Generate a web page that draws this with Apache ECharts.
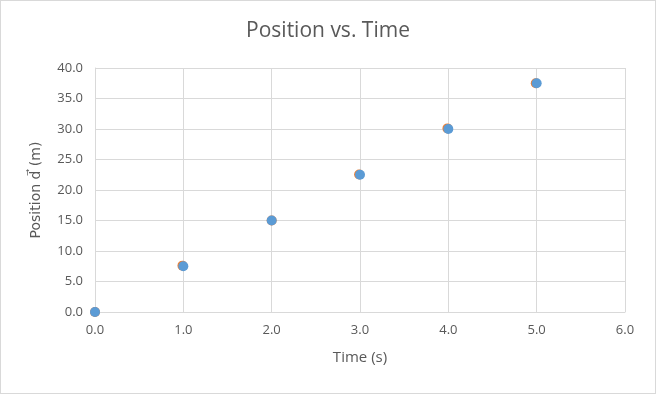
<!DOCTYPE html>
<html><head><meta charset="utf-8">
<script src="https://cdn.jsdelivr.net/npm/echarts@6/dist/echarts.min.js"></script>
<style>html,body{margin:0;padding:0;background:#fff}#c{width:656px;height:394px;box-sizing:border-box;border:1px solid #d9d9d9}</style>
</head><body><div id="c"></div>
<script>
const times = [0, 1, 2, 3, 4, 5];
const positions = [0, 7.5, 15, 22.5, 30, 37.5];
const timesB = [0, 0.99, 2, 2.99, 3.99, 4.99];
const positionsB = [0, 7.6, 15, 22.55, 30.1, 37.5];
const xTicks = [0, 1, 2, 3, 4, 5, 6];
const yTicks = [0, 5, 10, 15, 20, 25, 30, 35, 40];

const chart = echarts.init(document.getElementById('c'));
const font = '"Open Sans", "Noto Sans", sans-serif';
chart.setOption({
  animation: false,
  title: { text: 'Position vs. Time', left: 'center', top: 15,
    textStyle: { fontFamily: font, fontSize: 21, fontWeight: 'normal', color: '#595959' } },
  grid: { left: 94, right: 30, top: 67, bottom: 81 },
  xAxis: { type: 'value', min: 0, max: 6, interval: 1,
    name: 'Time (s)', nameLocation: 'middle', nameGap: 38,
    nameTextStyle: { fontFamily: font, fontSize: 15, color: '#595959' },
    axisLine: { lineStyle: { color: '#d9d9d9' } }, axisTick: { show: false },
    axisLabel: { formatter: v => v.toFixed(1), fontFamily: font, fontSize: 13, color: '#595959', margin: 12 },
    splitLine: { show: true, lineStyle: { color: '#d9d9d9' } } },
  yAxis: { type: 'value', min: 0, max: 40, interval: 5,
    name: 'Position d\u20D7 (m)', nameLocation: 'middle', nameGap: 52,
    nameTextStyle: { fontFamily: '"DejaVu Sans", sans-serif', fontSize: 14, color: '#595959' },
    axisLine: { show: true, lineStyle: { color: '#d9d9d9' } }, axisTick: { show: false },
    axisLabel: { formatter: v => v.toFixed(1), fontFamily: font, fontSize: 13, color: '#595959', margin: 12 },
    splitLine: { show: true, lineStyle: { color: '#d9d9d9' } } },
  series: [
    { type: 'scatter', symbolSize: 10, itemStyle: { color: '#ED7D31', opacity: 1 },
      data: timesB.map((t, i) => [t, positionsB[i]]) },
    { type: 'scatter', symbolSize: 10, itemStyle: { color: '#5B9BD5', opacity: 1 },
      data: times.map((t, i) => [t, positions[i]]) }
  ]
});
</script></body></html>
